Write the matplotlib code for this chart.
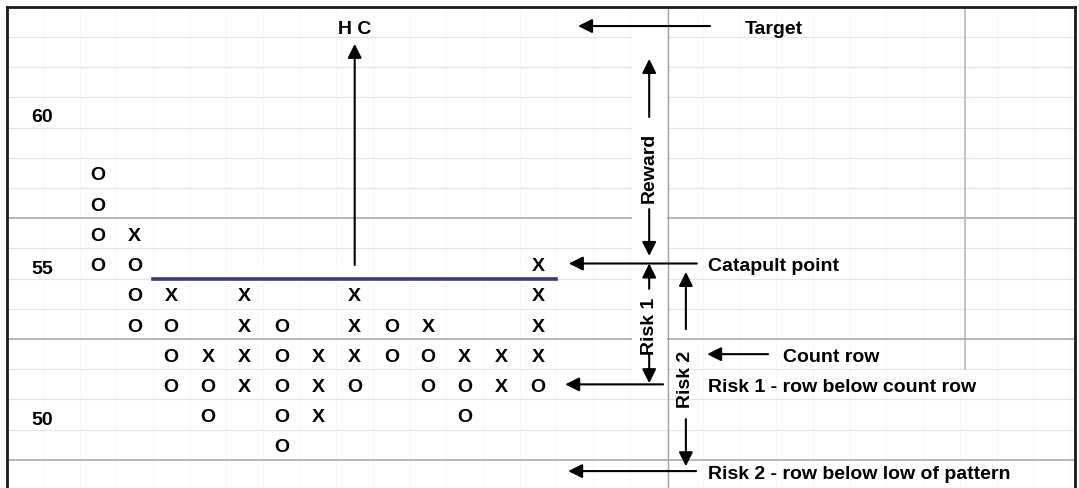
import matplotlib
matplotlib.use('Agg')
import matplotlib.pyplot as plt
from matplotlib.patches import Rectangle

plt.rcParams['font.family'] = ['Liberation Sans', 'DejaVu Sans']

# point & figure boxes, one string per price row, one char per column
prices = [58, 57, 56, 55, 54, 53, 52, 51, 50, 49]
cells = [
    "O            ",
    "O            ",
    "OX           ",
    "OO          X",
    " OX X  X    X",
    " OO XO XOX  X",
    "  OXXOXXOOXXX",
    "  OOXOXO OOXO",
    "   O OX   O  ",
    "     O       ",
]
price_labels = [60, 55, 50]

catapult = 55
count_row = 52
risk1_row = 51
risk2_row = 48
target = 63
breakout_col = 8
line_level = 54.5
line_cols = (2.5, 13.5)

dy = -0.07  # text sits a touch low in the scan


def arrow(ax, x0, y0, x1, y1):
    ax.annotate('', xy=(x1, y1), xytext=(x0, y0),
                arrowprops=dict(arrowstyle='-|>,head_length=0.6,head_width=0.3',
                                color='black', lw=1.5, shrinkA=0, shrinkB=0,
                                mutation_scale=14))


def label(ax, x, y, s, **kw):
    ax.text(x, y + dy, s, fontsize=14, fontweight='bold', va='center', **kw)


def draw():
    fig = plt.figure(figsize=(10.79, 4.89), dpi=100)
    ax = fig.add_axes([7 / 1079, 0, 1068 / 1079, 481 / 489])
    ax.set_xlim(-1.48, 27.64)
    ax.set_ylim(47.57, 63.49)
    ax.set_xticks([])
    ax.set_yticks([])
    for s in ['left', 'top', 'right']:
        ax.spines[s].set_color('#1a1a1a')
        ax.spines[s].set_linewidth(2)
    ax.spines['bottom'].set_visible(False)

    # grid
    for c in range(-1, 28):
        ax.axvline(c + 0.5, color='#f8f8f8', lw=0.8, zorder=0)
    for r in range(48, 63):
        if r + 0.5 in (48.5, 52.5, 56.5):
            ax.axhline(r + 0.5, color='#a9a9a9', lw=1.2, zorder=0)
        else:
            ax.axhline(r + 0.5, color='#e4e4e4', lw=0.9, zorder=0)
    ax.add_patch(Rectangle((15.56, 50.5), 0.96, 14, facecolor='white',
                           edgecolor='none', zorder=1))
    ax.plot([16.54, 16.54], [47.57, 63.49], color='#a8a09a', lw=1.0, zorder=1)
    ax.plot([24.64, 24.64], [51.5, 63.49], color='#c0b4ae', lw=1.2, zorder=1)

    # boxes
    for p, row in zip(prices, cells):
        for i, ch in enumerate(row):
            if ch != ' ':
                label(ax, i + 1, p, ch, ha='center', zorder=3)
    for p in price_labels:
        label(ax, -0.53, p - 0.08, str(p), ha='center', zorder=3)

    ax.plot(line_cols, [line_level, line_level], color='#3a3a8a', lw=2.6, zorder=2)

    # high column / target
    arrow(ax, breakout_col, catapult - 0.05, breakout_col, 62.27)
    label(ax, breakout_col, 62.86, 'H C', ha='center')
    arrow(ax, 17.69, 62.86, 14.09, 62.86)
    label(ax, 18.64, 62.86, 'Target', ha='left')

    # reward
    arrow(ax, 16.03, 59.85, 16.03, 61.77)
    arrow(ax, 16.03, 56.8, 16.03, 55.25)
    ax.text(16.03, 58.2, 'Reward', rotation=90, ha='center', va='center',
            fontsize=14, fontweight='bold')

    # risk 1
    arrow(ax, 16.03, 54.16, 16.03, catapult)
    arrow(ax, 16.03, 52.0, 16.03, 51.04)
    ax.text(16.03, 52.96, 'Risk 1', rotation=90, ha='center', va='center',
            fontsize=14, fontweight='bold')

    # risk 2
    arrow(ax, 17.03, 52.83, 17.03, 54.72)
    arrow(ax, 17.03, 49.85, 17.03, 48.29)
    ax.text(17.03, 51.18, 'Risk 2', rotation=90, ha='center', va='center',
            fontsize=14, fontweight='bold')

    # right hand labels
    arrow(ax, 17.33, catapult, 13.84, catapult)
    label(ax, 17.63, catapult, 'Catapult point', ha='left')
    arrow(ax, 19.27, count_row, 17.61, count_row)
    label(ax, 19.68, count_row, 'Count row', ha='left')
    arrow(ax, 16.41, risk1_row, 13.74, risk1_row)
    label(ax, 17.63, risk1_row, 'Risk 1 - row below count row', ha='left')
    arrow(ax, 17.31, risk2_row + 0.13, 13.82, risk2_row + 0.13)
    label(ax, 17.63, risk2_row + 0.13, 'Risk 2 - row below low of pattern', ha='left')

    fig.savefig('out.png', dpi=100, facecolor='white')


draw()
